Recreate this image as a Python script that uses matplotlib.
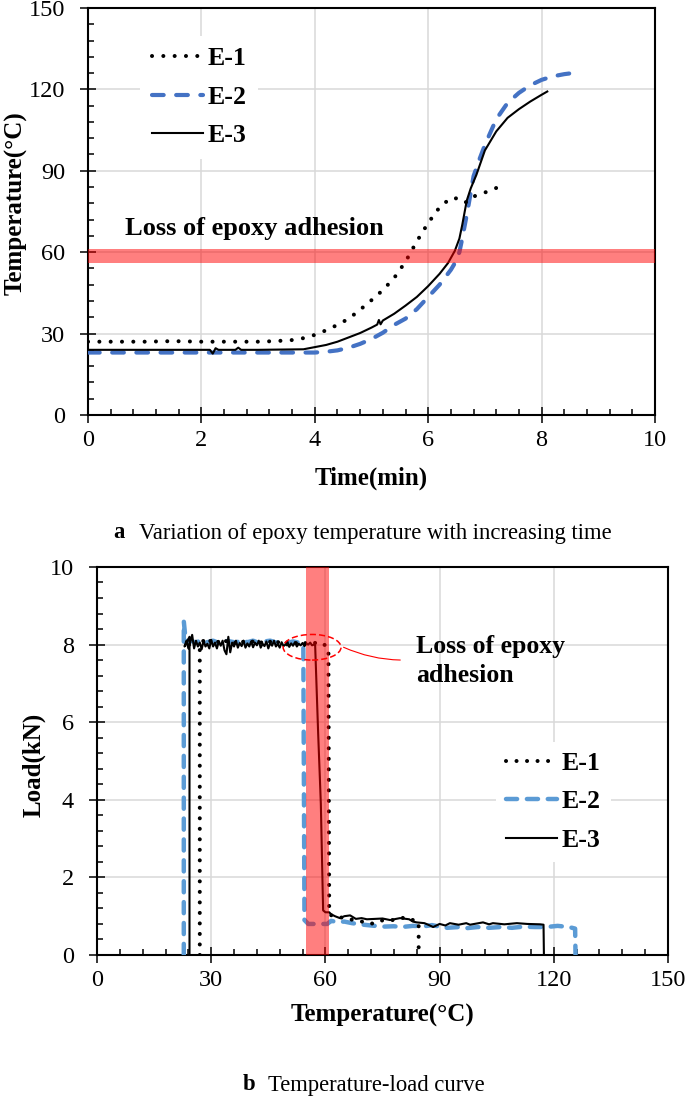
import numpy as np
import matplotlib
matplotlib.use('Agg')
import matplotlib.pyplot as plt
from matplotlib.patches import Ellipse
from matplotlib.ticker import MultipleLocator

plt.rcParams['font.family'] = ['Liberation Serif', 'DejaVu Serif']

# ---- panel a: temperature vs time ----
e1_t = [0, 0.5, 1.0, 1.5, 2.0, 2.5, 3.0, 3.3, 3.6, 3.8, 4.0, 4.2, 4.4, 4.6, 4.8, 5.0,
        5.2, 5.4, 5.6, 5.8, 6.0, 6.2, 6.4, 6.5, 6.6, 6.7, 6.8, 7.0, 7.15, 7.3]
e1_T = [27, 27, 27, 27.2, 27, 27, 27, 27.2, 27.6, 28.3, 29.5, 31.2, 33.2, 35.5, 38.8, 42.3,
        46, 50.5, 56.5, 64, 70.8, 76.5, 80, 79.8, 78.3, 78.5, 80.5, 82, 83, 85]

e2_t = [0, 1, 2, 3, 4.0, 4.2, 4.4, 4.6, 4.8, 5.0, 5.2, 5.4, 5.6, 5.8, 6.0, 6.2, 6.4, 6.5,
        6.55, 6.6, 6.7, 6.8, 6.9, 7.0, 7.2, 7.4, 7.6, 7.8, 8.0, 8.2, 8.4, 8.55]
e2_T = [23, 23, 23, 23, 23, 23.3, 23.8, 24.8, 26.2, 28, 30.3, 33.2, 35.5, 39, 43.5, 48, 53.5, 57,
        60, 65, 76, 88, 94, 99.5, 109, 115, 118.7, 121.5, 123.5, 124.8, 125.6, 126]

e3_t = [0, 1.0, 2.0, 2.15, 2.2, 2.25, 2.3, 2.6, 2.65, 2.7, 3.0, 3.8, 4.0, 4.2, 4.4, 4.6, 4.8,
        5.0, 5.1, 5.13, 5.16, 5.2, 5.4, 5.6, 5.8, 6.0, 6.2, 6.35, 6.47, 6.55, 6.6, 6.68, 6.75,
        6.85, 7.0, 7.2, 7.4, 7.6, 7.8, 8.0, 8.1]
e3_T = [24, 24, 24, 24, 22.6, 24.6, 24, 24, 24.8, 24, 24, 24.2, 25, 25.8, 27, 28.6, 30.2,
        32.2, 33.3, 35, 33.4, 34.8, 37.3, 40.3, 43.5, 47.5, 52, 56, 60.5, 65, 70, 79, 83.5,
        88.5, 97.5, 104.5, 109.5, 112.7, 115.5, 118, 119.2]

band_a = (56, 61)

# ---- panel b: load vs temperature ----
b1_T = [27, 27] + list(range(28, 61)) + [60.8, 61.0, 62, 64, 66, 68, 70, 72, 74, 76, 78, 80,
                                         81.4, 83, 84.5, 84.5]
b1_L = [0, 8.0] + [8.1, 8.0, 8.12, 8.02, 8.08, 8.0, 8.1, 8.03, 8.06, 8.0, 8.1, 8.02, 8.05,
                   8.08, 8.0, 8.06, 8.02, 8.1, 8.04, 8.12, 8.02, 8.06, 8.0, 8.08, 8.03, 8.06,
                   8.0, 8.05, 8.02, 8.06, 8.0, 8.03, 7.98] + \
       [7.9, 1.05, 1.0, 0.97, 0.92, 0.9, 0.85, 0.8, 0.88, 0.9, 0.9, 0.95, 0.97, 0.9, 0.85, 0]

b2_T = [22.8, 22.8, 23.3] + list(np.arange(24.5, 53.1, 1.5)) + \
       [54.2, 54.5, 55.5, 60.5, 61.5, 63, 65, 67, 70, 72, 75, 78, 80, 83, 86, 88, 90, 92, 95,
        97, 100, 103, 106, 109, 112, 115, 118, 121, 124, 125.6, 125.7]
b2_L = [0, 8.6, 8.1] + [8.1, 8.05, 8.12, 8.06, 8.1, 8.04, 8.1, 8.08, 8.05, 8.12, 8.06, 8.1,
                       8.04, 8.08, 8.1, 8.05, 8.08, 8.04, 8.08, 8.05] + \
       [8.0, 0.9, 0.8, 0.8, 0.88, 0.85, 0.86, 0.82, 0.78, 0.76, 0.73, 0.74, 0.72, 0.75, 0.74,
        0.77, 0.73, 0.7, 0.72, 0.69, 0.72, 0.7, 0.72, 0.7, 0.73, 0.72, 0.72, 0.75, 0.72, 0.68, 0]

b3_plateau = [8.25, 7.9, 8.1, 7.95, 8.05, 7.88, 8.1, 7.95, 8.02, 7.9,
              8.12, 7.95, 8.05, 7.9, 8.08, 7.97, 8.1, 7.85, 7.75, 8.2,
              7.8, 8.05, 7.95, 8.1, 7.92, 8.04, 7.96, 8.1, 7.92, 8.03,
              7.95, 8.08, 7.93, 8.05, 7.98, 8.1, 7.92, 8.02, 7.96, 8.08,
              7.9, 8.04, 7.97, 8.1, 7.95, 8.02, 7.92, 8.06, 7.96, 8.0,
              8.08, 7.94, 8.03, 7.97, 8.06, 7.95, 8.02, 7.98, 8.04, 7.96,
              8.02, 8.0, 8.05, 7.98, 8.0]
b3_T = [24.3, 24.3, 23.0, 23.5, 24.0, 24.5] + list(np.arange(25, 57.5, 0.5)) + \
       [57.3, 58.1, 58.8, 59.4, 60.0, 61.0, 61.5, 62.5, 63.8, 65, 66.5, 68, 69.5, 70.9, 73, 75,
        77, 79.6, 82, 83, 84, 86, 87, 88.3, 90, 91.5, 92.7, 95, 97, 98, 101.4, 103, 104, 107,
        110.3, 113, 116.4, 117.3, 117.4]
b3_L = [0, 8.2, 7.95, 8.1, 7.9, 8.05] + b3_plateau + \
       [8.0, 5.7, 3.9, 1.15, 1.1, 1.1, 1.05, 1.0, 0.95, 1.0, 1.02, 0.93, 0.95, 0.92, 0.93, 0.94,
        0.9, 0.95, 0.92, 0.86, 0.84, 0.82, 0.78, 0.72, 0.8, 0.76, 0.82, 0.78, 0.82, 0.78, 0.84,
        0.79, 0.82, 0.79, 0.82, 0.8, 0.79, 0.78, 0]

band_b = (55, 61)

labels = ['E-1', 'E-2', 'E-3']

fig = plt.figure(figsize=(6.85, 11.03), dpi=100)
ax1 = fig.add_axes([0.1285, 0.6238, 0.8277, 0.3690])
ax2 = fig.add_axes([0.1416, 0.1342, 0.8336, 0.3518])

grid_c = '#D9D9D9'
bold = dict(fontsize=18, fontweight='bold')


def style_axes(ax, xmaj, xmin, ymaj, ymin):
    ax.xaxis.set_major_locator(MultipleLocator(xmaj))
    ax.xaxis.set_minor_locator(MultipleLocator(xmin))
    ax.yaxis.set_major_locator(MultipleLocator(ymaj))
    ax.yaxis.set_minor_locator(MultipleLocator(ymin))
    ax.grid(True, which='major', color=grid_c, lw=1.1, zorder=0)
    ax.set_axisbelow(True)
    for s in ax.spines.values():
        s.set_linewidth(1.5)
        s.set_color('black')
    ax.tick_params(which='major', direction='inout', length=11, width=1.1, labelsize=17.5)
    ax.tick_params(which='minor', direction='in', length=4.5, width=1.1)
    ax.tick_params(axis='y', which='major', pad=11)
    ax.tick_params(axis='x', which='major', pad=5)
    ax.tick_params(top=False, right=False, which='both')


# panel a
l2, = ax1.plot(e2_t, e2_T, color='#4472C4', lw=3, dashes=(2.8, 3), dash_capstyle='round', zorder=3)
l1, = ax1.plot(e1_t, e1_T, color='black', lw=2.9, dashes=(0.01, 2.8), dash_capstyle='round', zorder=4)
l3, = ax1.plot(e3_t, e3_T, color='black', lw=1.5, zorder=5)
ax1.axhspan(band_a[0], band_a[1], color='red', alpha=0.5, lw=0, zorder=6)
ax1.text(0.65, 68.6, 'Loss of epoxy adhesion', va='center', ha='left', fontsize=19,
         fontweight='bold')
ax1.set_xlim(0, 10)
ax1.set_ylim(0, 150)
style_axes(ax1, 2, 0.4, 30, 6)
ax1.set_xlabel('Time(min)', **bold)
ax1.set_ylabel('Temperature(\u00b0C)', **bold)
ax1.xaxis.set_label_coords(0.5, -0.128)
ax1.yaxis.set_label_coords(-0.106, 0.52)
ax1.legend([l1, l2, l3], labels, loc='upper left', bbox_to_anchor=(0.092, 0.932),
           borderaxespad=0, frameon=True, fancybox=False, edgecolor='none',
           facecolor='white', framealpha=1, handlelength=2.0, handletextpad=0.18,
           labelspacing=0.6, borderpad=0.45, prop=dict(size=18.5, weight='bold'))

# panel b
m2, = ax2.plot(b2_T, b2_L, color='#5B9BD5', lw=3.2, dashes=(2.5, 2.2), dash_capstyle='round', zorder=3)
m1, = ax2.plot(b1_T, b1_L, color='black', lw=2.9, dashes=(0.01, 2.6), dash_capstyle='round', zorder=4)
m3, = ax2.plot(b3_T, b3_L, color='black', lw=1.5, zorder=5)
ax2.axvspan(band_b[0], band_b[1], color='red', alpha=0.5, lw=0, zorder=6)
ax2.add_patch(Ellipse((56.5, 7.93), 15.2, 0.66, fill=False, edgecolor='red', lw=1.1,
                      ls=(0, (4, 2)), zorder=7))
ax2.annotate('', xy=(64.1, 7.96), xytext=(80.4, 7.6),
             arrowprops=dict(arrowstyle='-', color='red', lw=0.8,
                             connectionstyle='angle3,angleA=0,angleB=-25'))
ax2.text(83.8, 7.58, 'Loss of epoxy\nadhesion', va='center', ha='left', linespacing=1.3,
         fontsize=18.5, fontweight='bold')
ax2.set_xlim(0, 150)
ax2.set_ylim(0, 10)
style_axes(ax2, 30, 6, 2, 0.4)
ax2.set_xlabel('Temperature(\u00b0C)', **bold)
ax2.set_ylabel('Load(kN)', **bold)
ax2.xaxis.set_label_coords(0.5, -0.125)
ax2.yaxis.set_label_coords(-0.09, 0.49)
ax2.legend([m1, m2, m3], labels, loc='upper left', bbox_to_anchor=(0.698, 0.55),
           borderaxespad=0, frameon=True, fancybox=False, edgecolor='none',
           facecolor='white', framealpha=1, handlelength=2.0, handletextpad=0.18,
           labelspacing=0.6, borderpad=0.4, prop=dict(size=18.5, weight='bold'))

# captions
fig.text(113 / 685, 1 - 533 / 1103, 'a', fontsize=16.3, fontweight='bold', va='center')
fig.text(139 / 685, 1 - 533 / 1103, 'Variation of epoxy temperature with increasing time',
         fontsize=16.3, va='center')
fig.text(243 / 685, 1 - 1085 / 1103, 'b', fontsize=16.3, fontweight='bold', va='center')
fig.text(268 / 685, 1 - 1085 / 1103, 'Temperature-load curve', fontsize=16.3, va='center')

fig.savefig('out.png', dpi=100)
